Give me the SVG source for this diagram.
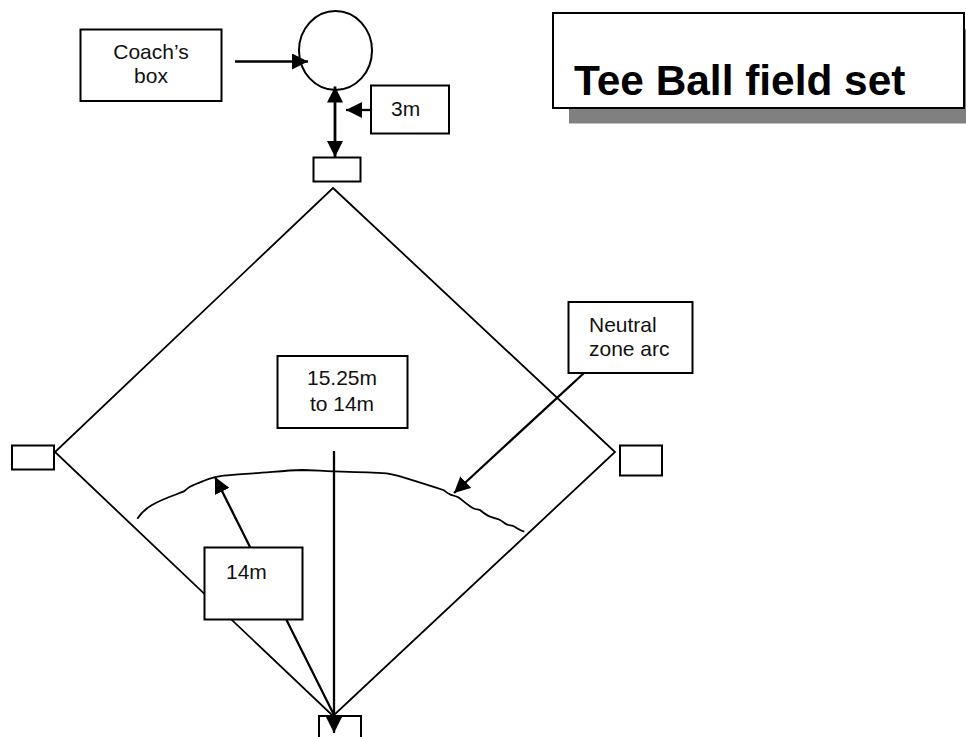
<svg xmlns="http://www.w3.org/2000/svg" width="966" height="737" viewBox="0 0 966 737">
<style>
.b{fill:#fff;stroke:#000;stroke-width:2}
.t{font-family:"Liberation Sans",Arial,sans-serif;font-size:21px;fill:#111}
.m{text-anchor:middle}
.c{fill:none;stroke:#000;stroke-width:2.300}
.d{fill:none;stroke:#000;stroke-width:2.800}
.l{fill:none;stroke:#000;stroke-width:1.800}
</style>
<defs>
<marker id="a" markerUnits="userSpaceOnUse" markerWidth="17" markerHeight="16" refX="16" refY="8" orient="auto-start-reverse"><path d="M0 0L16 8L0 16Z" fill="#000"/></marker>
</defs>
<rect width="966" height="737" fill="#fff"/>
<g id="field"><path class="l" d="M333 188L615 452L333 716L55 452Z"/></g>
<g id="base-top"><rect class="b" x="313.500" y="157.500" width="47" height="24"/></g>
<g id="base-left"><rect class="b" x="12" y="445.500" width="42" height="24"/></g>
<g id="base-right"><rect class="b" x="620" y="445.500" width="42" height="30"/></g>
<g id="base-bottom"><path fill="none" stroke="#000" stroke-width="2" d="M319 737V716H361V737"/></g>
<g id="arc"><path fill="none" stroke="#000" stroke-width="1.800" d="M137.300 518.700C141 513 146 508.500 152 505C161 499.500 172 496 183.300 491.700C186 490 187 488.500 190 486.700C194 484.500 198 483 203.300 481C210 478.500 216 476.500 223.300 475.700C233 474.300 243 474 253.300 473.300C270 472.300 285 470.500 301.700 470C312 470 322 471 333.300 471.300C350 471.800 368 472.200 386.700 473.300C392 474.300 398 475.500 403.300 477.300C417 481.500 430 485.500 443.300 490C446 491.500 447 493.300 450 494.300C453 495.500 455 496 458.300 497.300C463 500.500 468 505.500 473.300 508.300C476 509.800 477 509 480 510C483 512.500 486 515 490 516.700C494 518.300 497 518.700 500 520C503 521.500 505 524 508.300 525C510 525.700 511 525 513.300 526C517 528 520 530.500 524.300 531.700"/></g>
<g id="coach-circle"><ellipse cx="335.500" cy="50.500" rx="36.500" ry="39.500" fill="none" stroke="#000" stroke-width="2"/></g>
<g id="connectors">
<path class="c" marker-end="url(#a)" d="M235 61.500H308"/>
<path class="d" marker-start="url(#a)" marker-end="url(#a)" d="M335 86.500V157"/>
<path class="c" marker-end="url(#a)" d="M377 110H346"/>
<path class="c" marker-end="url(#a)" d="M584 373L454 493"/>
<path class="c" marker-end="url(#a)" d="M334 715L215 477"/>
<path class="c" marker-end="url(#a)" d="M334 451V733"/>
</g>
<g id="coach-box"><rect class="b" x="80.500" y="29.500" width="141" height="71.500"/><text class="t m" x="151" y="59">Coach’s</text><text class="t m" x="151" y="83">box</text></g>
<g id="label-3m"><rect class="b" x="371" y="85.500" width="78" height="48"/><text class="t" x="391" y="116">3m</text></g>
<g id="title"><rect x="569" y="29" width="397" height="94.500" fill="#808080"/><rect class="b" x="553" y="13" width="411" height="95"/><text x="574" y="95" style="font-family:'Liberation Sans',Arial,sans-serif;font-size:42.400px;font-weight:700" fill="#000">Tee Ball field set</text></g>
<g id="label-neutral"><rect class="b" x="568.500" y="302" width="124" height="71"/><text class="t" x="589" y="332">Neutral</text><text class="t" x="589" y="356">zone arc</text></g>
<g id="label-distance"><rect class="b" x="277.500" y="356" width="130" height="72"/><text class="t m" x="342" y="385">15.25m</text><text class="t m" x="342" y="411">to 14m</text></g>
<g id="label-14m"><rect class="b" x="204.500" y="547.500" width="98" height="72"/><text class="t" x="226" y="579">14m</text></g>
</svg>
